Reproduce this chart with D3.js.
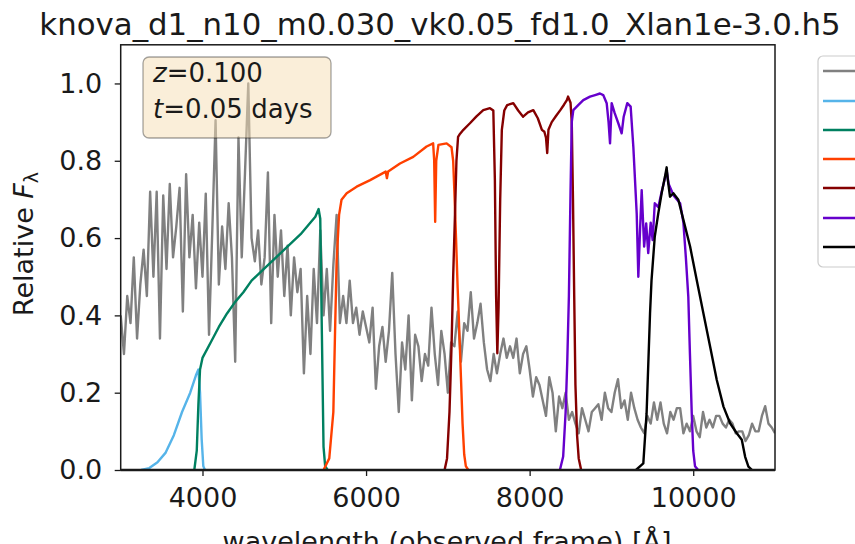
<!DOCTYPE html>
<html><head><meta charset="utf-8">
<script src="https://cdn.jsdelivr.net/npm/d3@7"></script>
<style>
body{margin:0;background:#fff}
svg{display:block}
text{font-family:"DejaVu Sans",sans-serif;fill:#1a1a1a}
</style>
</head><body>
<svg id="chart" width="855" height="544"></svg>
<script>
// ---------------- data ----------------
const titleText = "knova_d1_n10_m0.030_vk0.05_fd1.0_Xlan1e-3.0.h5";
const xTicks = [4000, 6000, 8000, 10000];
const yTicks = [0.0, 0.2, 0.4, 0.6, 0.8, 1.0];
const xDomain = [3000, 11000];
const yDomain = [0, 1.1];

const specWave = [
3000,3040,3080,3120,3160,3200,3240,3280,3320,3360,
3400,3440,3480,3520,3560,3600,3640,3680,3720,3760,
3800,3840,3880,3920,3960,4000,4040,4080,4120,4160,
4200,4240,4280,4320,4360,4400,4440,4480,4520,4560,
4600,4640,4680,4720,4760,4800,4840,4880,4920,4960,
5000,5040,5080,5120,5160,5200,5240,5280,5320,5360,
5400,5440,5480,5520,5560,5600,5640,5680,5720,5760,
5800,5840,5880,5920,5960,6000,6040,6080,6120,6160,
6200,6240,6280,6320,6360,6400,6440,6480,6520,6560,
6600,6640,6680,6720,6760,6800,6840,6880,6920,6960,
7000,7040,7080,7120,7160,7200,7240,7280,7320,7360,
7400,7440,7480,7520,7560,7600,7640,7680,7720,7760,
7800,7840,7880,7920,7960,8000,8040,8080,8120,8160,
8200,8240,8280,8320,8360,8400,8440,8480,8520,8560,
8600,8640,8680,8720,8760,8800,8840,8880,8920,8960,
9000,9040,9080,9120,9160,9200,9240,9280,9320,9360,
9400,9440,9480,9520,9560,9600,9640,9680,9720,9760,
9800,9840,9880,9920,9960,10000,10040,10080,10120,10160,
10200,10240,10280,10320,10360,10400,10440,10480,10520,10560,
10600,10640,10680,10720,10760,10800,10840,10880,10920,10960,
11000];
const specFlux = [
0.40,0.30,0.45,0.38,0.55,0.34,0.48,0.57,0.45,0.72,
0.50,0.72,0.34,0.71,0.52,0.74,0.55,0.63,0.73,0.41,
0.765,0.55,0.66,0.47,0.64,0.50,0.715,0.35,0.62,0.905,
0.48,0.63,0.52,0.69,0.55,0.28,0.86,0.55,0.77,1.0,
0.60,0.54,0.62,0.48,0.55,0.77,0.38,0.66,0.50,0.62,
0.45,0.58,0.40,0.55,0.46,0.52,0.25,0.45,0.30,0.52,
0.38,0.62,0.40,0.52,0.36,0.53,0.66,0.38,0.45,0.38,
0.49,0.38,0.42,0.35,0.41,0.37,0.33,0.42,0.21,0.32,
0.37,0.28,0.36,0.51,0.30,0.15,0.33,0.26,0.40,0.18,
0.35,0.32,0.23,0.30,0.27,0.42,0.30,0.22,0.36,0.30,
0.20,0.33,0.32,0.41,0.28,0.38,0.36,0.46,0.34,0.38,
0.43,0.33,0.26,0.23,0.30,0.25,0.30,0.34,0.29,0.32,
0.29,0.34,0.25,0.30,0.32,0.26,0.19,0.24,0.22,0.18,
0.14,0.24,0.20,0.10,0.19,0.16,0.20,0.13,0.15,0.12,
0.095,0.16,0.13,0.10,0.15,0.16,0.17,0.13,0.20,0.16,
0.15,0.20,0.235,0.16,0.18,0.13,0.20,0.16,0.13,0.11,
0.095,0.14,0.12,0.175,0.13,0.175,0.12,0.095,0.15,0.13,
0.16,0.16,0.095,0.12,0.10,0.14,0.10,0.085,0.15,0.11,
0.13,0.11,0.14,0.14,0.12,0.11,0.13,0.12,0.095,0.10,
0.10,0.075,0.09,0.12,0.10,0.10,0.14,0.165,0.12,0.11,
0.095];

const uBand = [[3250,0],[3350,0.005],[3450,0.02],[3550,0.045],[3650,0.09],[3750,0.15],[3850,0.2],[3920,0.245],[3950,0.26],[3970,0.2],[3990,0.08],[4010,0.01],[4030,0]];
const gBand = [[3900,0],[3930,0.05],[3950,0.17],[3970,0.26],[4000,0.29],[4100,0.33],[4200,0.37],[4300,0.405],[4400,0.435],[4500,0.46],[4600,0.49],[4700,0.51],[4800,0.53],[4900,0.55],[5000,0.57],[5100,0.59],[5200,0.61],[5300,0.635],[5380,0.655],[5420,0.675],[5440,0.65],[5460,0.35],[5480,0.06],[5500,0.01],[5530,0]];
const rBand = [[5480,0],[5550,0.03],[5600,0.15],[5620,0.35],[5640,0.54],[5670,0.66],[5700,0.699],[5763,0.716],[5885,0.733],[6050,0.75],[6240,0.772],[6255,0.755],[6270,0.772],[6415,0.793],[6577,0.81],[6740,0.837],[6820,0.845],[6833,0.8],[6845,0.642],[6858,0.8],[6885,0.841],[6985,0.845],[7045,0.835],[7065,0.8],[7080,0.72],[7100,0.6],[7120,0.47],[7140,0.36],[7160,0.24],[7180,0.12],[7200,0.04],[7220,0.01],[7250,0]];
const iBand = [[6960,0],[6990,0.03],[7020,0.15],[7045,0.32],[7065,0.5],[7087,0.66],[7105,0.8],[7125,0.862],[7150,0.87],[7190,0.88],[7270,0.897],[7350,0.915],[7433,0.931],[7515,0.936],[7556,0.93],[7575,0.75],[7590,0.45],[7605,0.302],[7620,0.42],[7640,0.7],[7660,0.88],[7690,0.93],[7725,0.944],[7800,0.949],[7860,0.93],[7920,0.914],[7980,0.925],[8045,0.931],[8100,0.91],[8150,0.88],[8180,0.875],[8200,0.86],[8215,0.82],[8230,0.88],[8270,0.9],[8320,0.915],[8375,0.931],[8420,0.945],[8455,0.957],[8470,0.966],[8500,0.95],[8515,0.9],[8530,0.7],[8545,0.45],[8560,0.22],[8580,0.09],[8600,0.03],[8630,0]];
const zBand = [[8370,0],[8410,0.035],[8440,0.15],[8460,0.28],[8480,0.45],[8500,0.72],[8515,0.9],[8534,0.931],[8600,0.945],[8656,0.957],[8738,0.966],[8800,0.97],[8860,0.974],[8900,0.97],[8942,0.949],[8965,0.9],[8983,0.845],[9003,0.949],[9040,0.923],[9084,0.897],[9125,0.871],[9150,0.914],[9194,0.949],[9235,0.94],[9268,0.836],[9309,0.664],[9329,0.5],[9350,0.621],[9370,0.724],[9400,0.578],[9425,0.638],[9450,0.561],[9480,0.64],[9504,0.595],[9530,0.69],[9573,0.68],[9614,0.72],[9655,0.755],[9675,0.775],[9700,0.74],[9760,0.71],[9800,0.7],[9840,0.69],[9880,0.64],[9910,0.55],[9940,0.448],[9960,0.3],[9982,0.147],[10000,0.05],[10022,0.01],[10060,0]];
const yBand = [[9300,0],[9390,0.017],[9430,0.147],[9472,0.405],[9490,0.49],[9530,0.604],[9573,0.664],[9614,0.716],[9655,0.759],[9675,0.783],[9690,0.75],[9716,0.707],[9757,0.716],[9818,0.699],[9880,0.647],[9962,0.578],[10044,0.49],[10125,0.405],[10207,0.319],[10288,0.233],[10370,0.164],[10451,0.121],[10533,0.095],[10594,0.078],[10635,0.034],[10675,0.009],[10720,0]];

const bandNames = ["spectrum", "u", "g", "r", "i", "z", "y"];
const bandColors = ["#808080", "#56b4e9", "#008060", "#ff4000", "#850000", "#6600cc", "#000000"];
const boxLines = ["z", "t"];
const boxValues = ["=0.100", "=0.05 days"];

// ---------------- drawing ----------------
const svg = d3.select("#chart");
const L = 120.7, R = 775, T = 44.8, B = 470;
const x = d3.scaleLinear().domain(xDomain).range([L, R]);
const y = d3.scaleLinear().domain(yDomain).range([B, T]);

svg.append("defs").append("clipPath").attr("id", "clip")
  .append("rect").attr("x", L).attr("y", T).attr("width", R - L).attr("height", B - T);

const plot = svg.append("g").attr("clip-path", "url(#clip)");
const line = d3.line().x(d => x(d[0])).y(d => y(d[1]));

const spec = specWave.map((w, i) => [w, specFlux[i]]);
const series = [spec, uBand, gBand, rBand, iBand, zBand, yBand];
series.forEach((s, i) => {
  plot.append("path").datum(s)
    .attr("d", line)
    .attr("fill", "none")
    .attr("stroke", bandColors[i])
    .attr("stroke-width", 2.4)
    .attr("stroke-linejoin", "round");
});

// axes
const fs = 27;
const xAxis = d3.axisBottom(x).tickValues(xTicks).tickSize(6).tickPadding(11.5).tickFormat(d3.format("d"));
const gx = svg.append("g").attr("transform", `translate(0,${B})`).call(xAxis);
gx.select(".domain").remove();
gx.selectAll("text").attr("font-size", fs).attr("font-family", "DejaVu Sans").attr("fill", "#1a1a1a");
gx.selectAll("line").attr("stroke", "#1a1a1a").attr("stroke-width", 1.3);

const yAxis = d3.axisLeft(y).tickValues(yTicks).tickSize(6).tickPadding(12.5).tickFormat(d3.format(".1f"));
const gy = svg.append("g").attr("transform", `translate(${L},0)`).call(yAxis);
gy.select(".domain").remove();
gy.selectAll("text").attr("font-size", fs).attr("font-family", "DejaVu Sans").attr("fill", "#1a1a1a");
gy.selectAll("line").attr("stroke", "#1a1a1a").attr("stroke-width", 1.3);

// spines
svg.append("rect").attr("x", L).attr("y", T).attr("width", R - L).attr("height", B - T)
  .attr("fill", "none").attr("stroke", "#1a1a1a").attr("stroke-width", 1.5);
svg.append("line").attr("x1", L).attr("x2", R).attr("y1", B).attr("y2", B)
  .attr("stroke", "#1a1a1a").attr("stroke-width", 2.6);

// title
svg.append("text").attr("x", 440).attr("y", 35).attr("text-anchor", "middle")
  .attr("font-size", 30.8).text(titleText);

// x label (cropped by the figure edge, as in the reference)
svg.append("text").attr("x", 447).attr("y", 551).attr("text-anchor", "middle")
  .attr("font-size", fs).text("wavelength (observed frame) [Å]");

// y label
const yl = svg.append("text").attr("transform", "translate(33,244) rotate(-90)")
  .attr("text-anchor", "middle").attr("font-size", fs);
yl.append("tspan").text("Relative ");
yl.append("tspan").attr("font-style", "italic").text("F");
yl.append("tspan").attr("font-size", 19).attr("dy", 5).text("λ");

// text box
svg.append("rect").attr("x", 143).attr("y", 57).attr("width", 188).attr("height", 81)
  .attr("rx", 6).attr("fill", "#f5deb3").attr("fill-opacity", 0.5)
  .attr("stroke", "#000").attr("stroke-opacity", 0.35).attr("stroke-width", 1.3);
boxLines.forEach((v, i) => {
  const t = svg.append("text").attr("x", 153).attr("y", 82 + i * 36).attr("font-size", 26);
  t.append("tspan").attr("font-style", "italic").text(v);
  t.append("tspan").text(boxValues[i]);
});

// legend (cropped at right edge)
svg.append("rect").attr("x", 818).attr("y", 56).attr("width", 80).attr("height", 211)
  .attr("rx", 5).attr("fill", "#fff").attr("fill-opacity", 0.8)
  .attr("stroke", "#cccccc").attr("stroke-width", 1.2);
const legY = [71, 101, 130, 159, 188, 218, 247];
bandNames.forEach((n, i) => {
  svg.append("line").attr("x1", 823).attr("x2", 880)
    .attr("y1", legY[i]).attr("y2", legY[i])
    .attr("stroke", bandColors[i]).attr("stroke-width", 2.6);
});
</script>
</body></html>
